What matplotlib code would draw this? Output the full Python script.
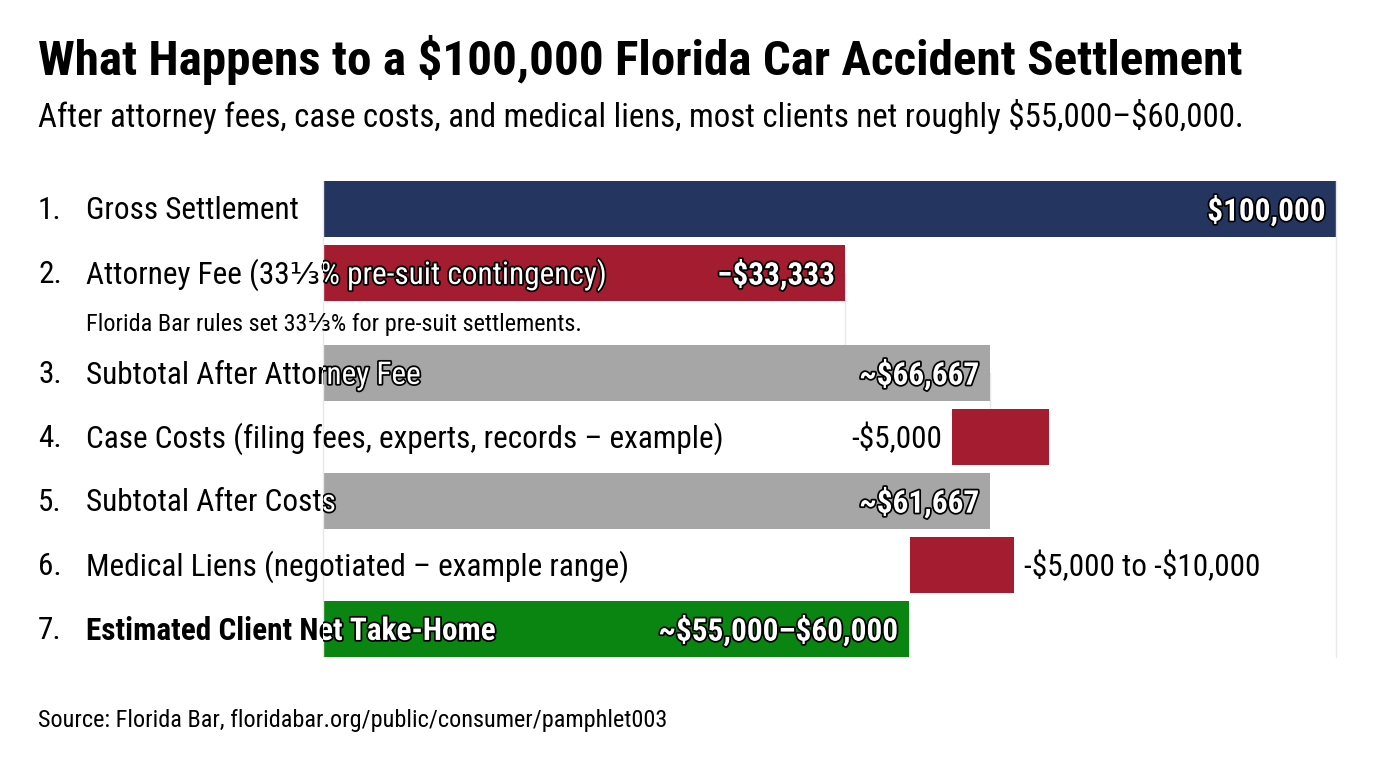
import matplotlib
matplotlib.use("Agg")
import matplotlib.pyplot as plt
import matplotlib.patheffects as pe
from matplotlib.transforms import blended_transform_factory

plt.rcParams['font.family'] = ['Roboto Condensed', 'Roboto', 'DejaVu Sans']
plt.rcParams['text.parse_math'] = False

# data
numbers = ['1.', '2.', '3.', '4.', '5.', '6.', '7.']
categories = ['Gross Settlement',
              'Attorney Fee (33⅓% pre-suit contingency)',
              'Subtotal After Attorney Fee',
              'Case Costs (filing fees, experts, records – example)',
              'Subtotal After Costs',
              'Medical Liens (negotiated – example range)',
              'Estimated Client Net Take-Home']
bar_start = [0, 0, 0, 62100, 0, 57900, 0]
bar_end = [100000, 51500, 65800, 71700, 65800, 68200, 57800]
value_labels = ['$100,000', '−$33,333', '~$66,667', '-$5,000', '~$61,667',
                '-$5,000 to -$10,000', '~$55,000–$60,000']
value_place = ['in', 'in', 'in', 'left', 'in', 'right', 'in']
bar_colors = ['#24365f', '#a31c30', '#a6a6a6', '#a31c30', '#a6a6a6', '#a31c30', '#0a8511']
bold_rows = [False, False, False, False, False, False, True]
note = 'Florida Bar rules set 33⅓% for pre-suit settlements.'

W, H = 1376, 768
fig = plt.figure(figsize=(W / 100, H / 100), dpi=100)
fig.patch.set_facecolor('white')
ax = fig.add_axes([323 / W, 1 - 657 / H, (1336 - 323) / W, (657 - 181) / H])

# extra gap after row 2 for the note line
ypos = [i + (0.5625 if i >= 2 else 0) for i in range(len(categories))]
widths = [e - s for s, e in zip(bar_start, bar_end)]
bars = ax.barh(ypos, widths, left=bar_start, height=0.875, color=bar_colors, zorder=2)

ax.set_xlim(0, 100000)
ax.set_ylim(ypos[-1] + 0.4375, -0.4375)
ax.set_xticks([])
ax.set_yticks([])
for s in ['top', 'bottom']:
    ax.spines[s].set_visible(False)
for s in ['left', 'right']:
    ax.spines[s].set_color('#e8e8e8')
    ax.spines[s].set_linewidth(1)

# faint connectors
ax.plot([bar_end[1], bar_end[1]], [ypos[1], ypos[2]], color='#e8e8e8', lw=1, zorder=1)
ax.plot([bar_end[2], bar_end[2]], [ypos[2], ypos[3]], color='#e8e8e8', lw=1, zorder=1)

outline = [pe.Stroke(linewidth=2.5, foreground='black'), pe.Normal()]
trans = blended_transform_factory(fig.transFigure, ax.transData)
fs = 22.5
dy = 0.03  # nudge text down a touch

for i, (num, cat) in enumerate(zip(numbers, categories)):
    wt = 'bold' if bold_rows[i] else 'normal'
    ax.text(38 / W, ypos[i] + dy, num, transform=trans, fontsize=fs, va='center',
            ha='left', color='black', clip_on=False, zorder=3)
    ax.text(86 / W, ypos[i] + dy, cat, transform=trans, fontsize=fs, va='center',
            ha='left', color='black', fontweight=wt, clip_on=False, zorder=3)
    # white outlined copy over the bar
    t = ax.text(86 / W, ypos[i] + dy, cat, transform=trans, fontsize=fs, va='center',
                ha='left', color='white', fontweight=wt, zorder=4,
                path_effects=outline)
    t.set_clip_on(True)
    t.set_clip_path(bars[i])

ax.text(86 / W, ypos[1] + 0.81, note, transform=trans, fontsize=17.5,
        va='center', ha='left', clip_on=False)

pad = 1000
for i, lab in enumerate(value_labels):
    if value_place[i] == 'in':
        ax.text(bar_end[i] - pad, ypos[i] + dy, lab, ha='right', va='center',
                fontsize=22.5, fontweight='bold', color='white',
                path_effects=outline, zorder=5)
    elif value_place[i] == 'left':
        ax.text(bar_start[i] - pad, ypos[i] + dy, lab, ha='right', va='center',
                fontsize=fs, color='black', zorder=5)
    else:
        ax.text(bar_end[i] + pad, ypos[i] + dy, lab, ha='left', va='center',
                fontsize=fs, color='black', zorder=5)

fig.text(38 / W, 1 - 60 / H, 'What Happens to a $100,000 Florida Car Accident Settlement',
         fontsize=35.4, fontweight='bold', va='center', ha='left')
fig.text(38 / W, 1 - 116 / H,
         'After attorney fees, case costs, and medical liens, most clients net roughly $55,000–$60,000.',
         fontsize=23.7, va='center', ha='left')
fig.text(38 / W, 1 - 720 / H, 'Source: Florida Bar, floridabar.org/public/consumer/pamphlet003',
         fontsize=17.5, va='center', ha='left')

fig.savefig('out.png', dpi=100, facecolor='white')
